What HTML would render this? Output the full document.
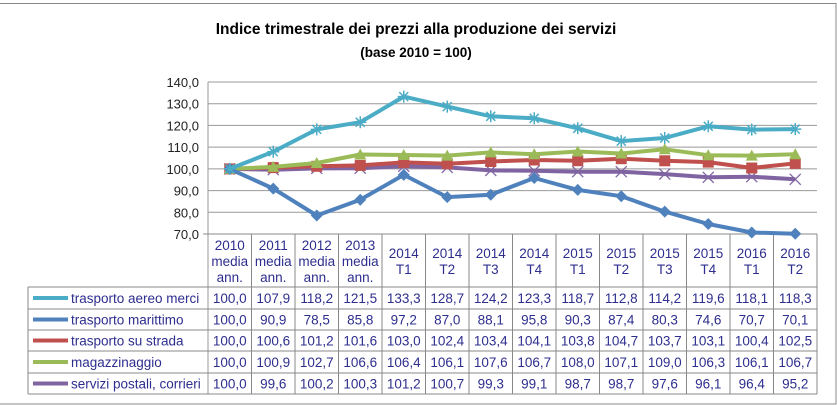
<!DOCTYPE html>
<html><head><meta charset="utf-8"><style>
html,body{margin:0;padding:0;background:#fff}
svg{display:block;font-family:"Liberation Sans",sans-serif}
.t{fill:#2E2E8F;font-size:13.5px;text-anchor:middle}
.y{fill:#222;font-size:13px;text-anchor:end}
</style></head><body>
<svg width="837" height="405" viewBox="0 0 837 405" xmlns="http://www.w3.org/2000/svg">
<defs>
<marker id="mStar" markerWidth="14" markerHeight="14" refX="7" refY="7" markerUnits="userSpaceOnUse"><path d="M1,7H13M7,1V13M2.5,2.5L11.5,11.5M11.5,2.5L2.5,11.5" stroke="#4BACC6" stroke-width="1.5"/></marker>
<marker id="mDia" markerWidth="14" markerHeight="14" refX="7" refY="7" markerUnits="userSpaceOnUse"><path d="M7,1L13,7L7,13L1,7Z" fill="#4F81BD"/></marker>
<marker id="mSq" markerWidth="14" markerHeight="14" refX="7" refY="7" markerUnits="userSpaceOnUse"><rect x="1.5" y="1.5" width="11" height="11" fill="#C0504D"/></marker>
<marker id="mTri" markerWidth="14" markerHeight="14" refX="7" refY="7" markerUnits="userSpaceOnUse"><path d="M7,1L13,12H1Z" fill="#9BBB59"/></marker>
<marker id="mX" markerWidth="14" markerHeight="14" refX="7" refY="7" markerUnits="userSpaceOnUse"><path d="M1.5,1.5L12.5,12.5M12.5,1.5L1.5,12.5" stroke="#8064A2" stroke-width="1.3"/></marker>
</defs>
<rect x="-2" y="3.5" width="838" height="400.5" fill="none" stroke="#888" stroke-width="1"/>
<text x="416" y="34" text-anchor="middle" font-size="15.5" font-weight="bold" fill="#000">Indice trimestrale dei prezzi alla produzione dei servizi</text>
<text x="416" y="57" text-anchor="middle" font-size="13.5" font-weight="bold" fill="#000">(base 2010 = 100)</text>
<g stroke="#999" stroke-width="1">
<line x1="208" y1="82" x2="817" y2="82"/><line x1="208" y1="103.7" x2="817" y2="103.7"/>
<line x1="208" y1="125.4" x2="817" y2="125.4"/><line x1="208" y1="147.1" x2="817" y2="147.1"/>
<line x1="208" y1="168.9" x2="817" y2="168.9"/><line x1="208" y1="190.6" x2="817" y2="190.6"/>
<line x1="208" y1="212.3" x2="817" y2="212.3"/>
<line x1="208" y1="82" x2="208" y2="394"/>
</g>
<g class="y">
<text x="199" y="87">140,0</text><text x="199" y="108.7">130,0</text><text x="199" y="130.4">120,0</text>
<text x="199" y="152.1">110,0</text><text x="199" y="173.9">100,0</text><text x="199" y="195.6">90,0</text>
<text x="199" y="217.3">80,0</text><text x="199" y="239">70,0</text>
</g>
<!-- table grid -->
<g stroke="#888" stroke-width="1">
<line x1="203" y1="234" x2="817" y2="234"/>
<line x1="28" y1="287" x2="817" y2="287"/>
<line x1="28" y1="309" x2="817" y2="309"/>
<line x1="28" y1="330" x2="817" y2="330"/>
<line x1="28" y1="351" x2="817" y2="351"/>
<line x1="28" y1="373" x2="817" y2="373"/>
<line x1="28" y1="394" x2="817" y2="394"/>
<line x1="28" y1="287" x2="28" y2="394"/>
<line x1="251.5" y1="234" x2="251.5" y2="394"/><line x1="295" y1="234" x2="295" y2="394"/>
<line x1="338.5" y1="234" x2="338.5" y2="394"/><line x1="382" y1="234" x2="382" y2="394"/>
<line x1="425.5" y1="234" x2="425.5" y2="394"/><line x1="469" y1="234" x2="469" y2="394"/>
<line x1="512.5" y1="234" x2="512.5" y2="394"/><line x1="556" y1="234" x2="556" y2="394"/>
<line x1="599.5" y1="234" x2="599.5" y2="394"/><line x1="643" y1="234" x2="643" y2="394"/>
<line x1="686.5" y1="234" x2="686.5" y2="394"/><line x1="730" y1="234" x2="730" y2="394"/>
<line x1="773.5" y1="234" x2="773.5" y2="394"/><line x1="817" y1="234" x2="817" y2="394"/>
</g>
<!-- series -->
<g fill="none" stroke-width="4" stroke-linejoin="round">
<polyline stroke="#8064A2" marker-start="url(#mX)" marker-mid="url(#mX)" marker-end="url(#mX)" points="229.75,168.9 273.25,169.7 316.75,168.4 360.25,168.2 403.75,166.3 447.25,167.4 490.75,170.4 534.25,170.8 577.75,171.7 621.25,171.7 664.75,174.1 708.25,177.3 751.75,176.7 795.25,179.3"/>
<polyline stroke="#C0504D" marker-start="url(#mSq)" marker-mid="url(#mSq)" marker-end="url(#mSq)" points="229.75,168.9 273.25,167.6 316.75,166.3 360.25,165.4 403.75,162.4 447.25,163.7 490.75,161.5 534.25,160 577.75,160.7 621.25,158.7 664.75,160.8 708.25,162.1 751.75,168 795.25,163.4"/>
<polyline stroke="#9BBB59" marker-start="url(#mTri)" marker-mid="url(#mTri)" marker-end="url(#mTri)" points="229.75,168.9 273.25,166.9 316.75,163 360.25,154.5 403.75,155 447.25,155.6 490.75,152.4 534.25,154.3 577.75,151.5 621.25,153.5 664.75,149.3 708.25,155.2 751.75,155.6 795.25,154.3"/>
<polyline stroke="#4F81BD" marker-start="url(#mDia)" marker-mid="url(#mDia)" marker-end="url(#mDia)" points="229.75,168.9 273.25,188.6 316.75,215.5 360.25,199.7 403.75,174.9 447.25,197.1 490.75,194.7 534.25,178 577.75,189.9 621.25,196.2 664.75,211.6 708.25,224 751.75,232.5 795.25,233.8"/>
<polyline stroke="#4BACC6" marker-start="url(#mStar)" marker-mid="url(#mStar)" marker-end="url(#mStar)" points="229.75,168.9 273.25,151.7 316.75,129.4 360.25,122.2 403.75,96.6 447.25,106.6 490.75,116.3 534.25,118.3 577.75,128.3 621.25,141.1 664.75,138 708.25,126.3 751.75,129.6 795.25,129.1"/>
</g>
<!-- header -->
<g class="t">
<text x="229.75" y="250">2010</text><text x="229.75" y="266">media</text><text x="229.75" y="282">ann.</text>
<text x="273.25" y="250">2011</text><text x="273.25" y="266">media</text><text x="273.25" y="282">ann.</text>
<text x="316.75" y="250">2012</text><text x="316.75" y="266">media</text><text x="316.75" y="282">ann.</text>
<text x="360.25" y="250">2013</text><text x="360.25" y="266">media</text><text x="360.25" y="282">ann.</text>
<text x="403.75" y="258">2014</text><text x="403.75" y="274">T1</text>
<text x="447.25" y="258">2014</text><text x="447.25" y="274">T2</text>
<text x="490.75" y="258">2014</text><text x="490.75" y="274">T3</text>
<text x="534.25" y="258">2014</text><text x="534.25" y="274">T4</text>
<text x="577.75" y="258">2015</text><text x="577.75" y="274">T1</text>
<text x="621.25" y="258">2015</text><text x="621.25" y="274">T2</text>
<text x="664.75" y="258">2015</text><text x="664.75" y="274">T3</text>
<text x="708.25" y="258">2015</text><text x="708.25" y="274">T4</text>
<text x="751.75" y="258">2016</text><text x="751.75" y="274">T1</text>
<text x="795.25" y="258">2016</text><text x="795.25" y="274">T2</text>
</g>
<!-- legend keys -->
<g stroke-width="4">
<line x1="33" y1="298" x2="68" y2="298" stroke="#4BACC6"/>
<line x1="33" y1="319.5" x2="68" y2="319.5" stroke="#4F81BD"/>
<line x1="33" y1="340.5" x2="68" y2="340.5" stroke="#C0504D"/>
<line x1="33" y1="362" x2="68" y2="362" stroke="#9BBB59"/>
<line x1="33" y1="383.5" x2="68" y2="383.5" stroke="#8064A2"/>
</g>
<g class="t" style="text-anchor:start">
<text x="71" y="303">trasporto aereo merci</text>
<text x="71" y="324.5">trasporto marittimo</text>
<text x="71" y="345.5">trasporto su strada</text>
<text x="71" y="367">magazzinaggio</text>
<text x="71" y="388.5">servizi postali, corrieri</text>
</g>
<g class="t">
<text x="229.75" y="303">100,0</text><text x="273.25" y="303">107,9</text><text x="316.75" y="303">118,2</text><text x="360.25" y="303">121,5</text><text x="403.75" y="303">133,3</text><text x="447.25" y="303">128,7</text><text x="490.75" y="303">124,2</text><text x="534.25" y="303">123,3</text><text x="577.75" y="303">118,7</text><text x="621.25" y="303">112,8</text><text x="664.75" y="303">114,2</text><text x="708.25" y="303">119,6</text><text x="751.75" y="303">118,1</text><text x="795.25" y="303">118,3</text>
<text x="229.75" y="324.5">100,0</text><text x="273.25" y="324.5">90,9</text><text x="316.75" y="324.5">78,5</text><text x="360.25" y="324.5">85,8</text><text x="403.75" y="324.5">97,2</text><text x="447.25" y="324.5">87,0</text><text x="490.75" y="324.5">88,1</text><text x="534.25" y="324.5">95,8</text><text x="577.75" y="324.5">90,3</text><text x="621.25" y="324.5">87,4</text><text x="664.75" y="324.5">80,3</text><text x="708.25" y="324.5">74,6</text><text x="751.75" y="324.5">70,7</text><text x="795.25" y="324.5">70,1</text>
<text x="229.75" y="345.5">100,0</text><text x="273.25" y="345.5">100,6</text><text x="316.75" y="345.5">101,2</text><text x="360.25" y="345.5">101,6</text><text x="403.75" y="345.5">103,0</text><text x="447.25" y="345.5">102,4</text><text x="490.75" y="345.5">103,4</text><text x="534.25" y="345.5">104,1</text><text x="577.75" y="345.5">103,8</text><text x="621.25" y="345.5">104,7</text><text x="664.75" y="345.5">103,7</text><text x="708.25" y="345.5">103,1</text><text x="751.75" y="345.5">100,4</text><text x="795.25" y="345.5">102,5</text>
<text x="229.75" y="367">100,0</text><text x="273.25" y="367">100,9</text><text x="316.75" y="367">102,7</text><text x="360.25" y="367">106,6</text><text x="403.75" y="367">106,4</text><text x="447.25" y="367">106,1</text><text x="490.75" y="367">107,6</text><text x="534.25" y="367">106,7</text><text x="577.75" y="367">108,0</text><text x="621.25" y="367">107,1</text><text x="664.75" y="367">109,0</text><text x="708.25" y="367">106,3</text><text x="751.75" y="367">106,1</text><text x="795.25" y="367">106,7</text>
<text x="229.75" y="388.5">100,0</text><text x="273.25" y="388.5">99,6</text><text x="316.75" y="388.5">100,2</text><text x="360.25" y="388.5">100,3</text><text x="403.75" y="388.5">101,2</text><text x="447.25" y="388.5">100,7</text><text x="490.75" y="388.5">99,3</text><text x="534.25" y="388.5">99,1</text><text x="577.75" y="388.5">98,7</text><text x="621.25" y="388.5">98,7</text><text x="664.75" y="388.5">97,6</text><text x="708.25" y="388.5">96,1</text><text x="751.75" y="388.5">96,4</text><text x="795.25" y="388.5">95,2</text>
</g>
</svg>
</body></html>
